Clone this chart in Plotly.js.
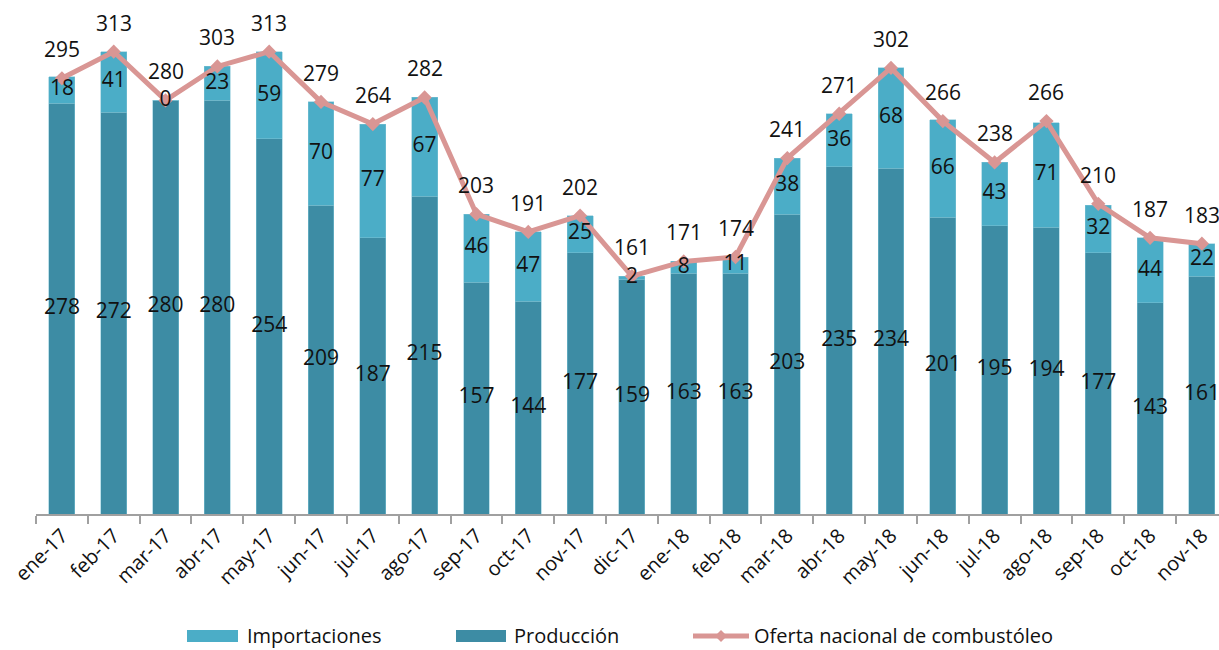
<!DOCTYPE html>
<html>
<head>
<meta charset="utf-8">
<script src="https://cdn.plot.ly/plotly-3.0.1.min.js"></script>
<style>html,body{margin:0;padding:0;background:#fff;}#chart{width:1219px;height:650px;}</style>
</head>
<body>
<div id="chart"></div>
<script>
const months = ["ene-17","feb-17","mar-17","abr-17","may-17","jun-17","jul-17","ago-17","sep-17","oct-17","nov-17","dic-17","ene-18","feb-18","mar-18","abr-18","may-18","jun-18","jul-18","ago-18","sep-18","oct-18","nov-18"];
const produccion = [278,272,280,280,254,209,187,215,157,144,177,159,163,163,203,235,234,201,195,194,177,143,161];
const importaciones = [18,41,0,23,59,70,77,67,46,47,25,2,8,11,38,36,68,66,43,71,32,44,22];
const oferta = [295,313,280,303,313,279,264,282,203,191,202,161,171,174,241,271,302,266,238,266,210,187,183];
const seriesNames = ["Importaciones","Producción","Oferta nacional de combustóleo"];

const FONT = "'Open Sans', 'DejaVu Sans', sans-serif";
const cProd = "#3d8ca4";
const cImp = "#4badc7";
const cLine = "#d99694";

const W = 1219, H = 650, ML = 36, MR = 0, MT = 0, MB = 136;
const PW = W - ML - MR, PH = H - MT - MB;
const px = v => (v - ML) / PW;          // pixel x -> paper x
const py = v => (H - MB - v) / PH;      // pixel y -> paper y

const traces = [
  {type:"bar", name:seriesNames[1], x:months, y:produccion, marker:{color:cProd, line:{color:"#7fc3d6", width:0.5}}, width:0.5, showlegend:false},
  {type:"bar", name:seriesNames[0], x:months, y:importaciones, marker:{color:cImp, line:{color:"#7fc3d6", width:0.5}}, width:0.5, showlegend:false},
  {type:"scatter", mode:"lines+markers", name:seriesNames[2], x:months, y:oferta,
   line:{color:cLine, width:5}, marker:{symbol:"diamond", size:11, color:cLine}, showlegend:false},
  {type:"scatter", mode:"text", x:months, y:produccion.map(v=>v/2), text:produccion.map(String),
   textfont:{family:FONT, size:21, color:"#111"}, showlegend:false, hoverinfo:"skip"},
  {type:"scatter", mode:"text", x:months, y:produccion.map((v,i)=>v+importaciones[i]/2), text:importaciones.map(String),
   textfont:{family:FONT, size:21, color:"#111"}, showlegend:false, hoverinfo:"skip"}
];

const annotations = months.map((m,i)=>({
  x:m, y:oferta[i], xref:"x", yref:"y", text:String(oferta[i]), showarrow:false,
  yshift:29, yanchor:"middle", font:{family:FONT, size:21, color:"#111"}
}));

// custom legend (wide swatches like the original)
const legY = 635;
const legendItems = [
  {name:seriesNames[0], sx0:187, sx1:238, tx:245, kind:"bar", color:cImp},
  {name:seriesNames[1], sx0:456, sx1:506, tx:512, kind:"bar", color:cProd},
  {name:seriesNames[2], sx0:693, sx1:749, tx:752, kind:"line", color:cLine}
];
const shapes = [];
legendItems.forEach(it=>{
  if (it.kind === "bar") {
    shapes.push({type:"rect", xref:"paper", yref:"paper", x0:px(it.sx0), x1:px(it.sx1), y0:py(legY+7), y1:py(legY-5),
      fillcolor:it.color, line:{width:0}});
  } else {
    shapes.push({type:"line", xref:"paper", yref:"paper", x0:px(it.sx0), x1:px(it.sx1), y0:py(legY+1), y1:py(legY+1),
      line:{color:it.color, width:5}});
    const cx = (it.sx0 + it.sx1)/2;
    shapes.push({type:"path", xref:"paper", yref:"paper",
      path:`M ${px(cx-6)} ${py(legY+1)} L ${px(cx)} ${py(legY-5)} L ${px(cx+6)} ${py(legY+1)} L ${px(cx)} ${py(legY+7)} Z`,
      fillcolor:it.color, line:{width:0}});
  }
  annotations.push({xref:"paper", yref:"paper", x:px(it.tx), y:py(legY), xanchor:"left", yanchor:"middle",
    text:it.name, showarrow:false, font:{family:FONT, size:20, color:"#111"}});
});

const layout = {
  width:W, height:H,
  margin:{l:ML, r:MR, t:MT, b:MB, pad:0},
  paper_bgcolor:"#fff", plot_bgcolor:"rgba(0,0,0,0)",
  barmode:"stack",
  font:{family:FONT, color:"#111"},
  showlegend:false,
  xaxis:{type:"category", range:[-0.5, 22.33], tickangle:-45, tickson:"boundaries",
    ticks:"outside", ticklen:8, tickcolor:"#a0a0a0", tickwidth:2,
    showline:true, linecolor:"#a0a0a0", linewidth:2, showgrid:false, zeroline:false,
    tickfont:{family:FONT, size:20, color:"#111"}, automargin:false},
  yaxis:{range:[0, 348], visible:false, showgrid:false, zeroline:false},
  annotations:annotations,
  shapes:shapes
};

Plotly.newPlot("chart", traces, layout, {displayModeBar:false, staticPlot:true});
</script>
</body>
</html>
